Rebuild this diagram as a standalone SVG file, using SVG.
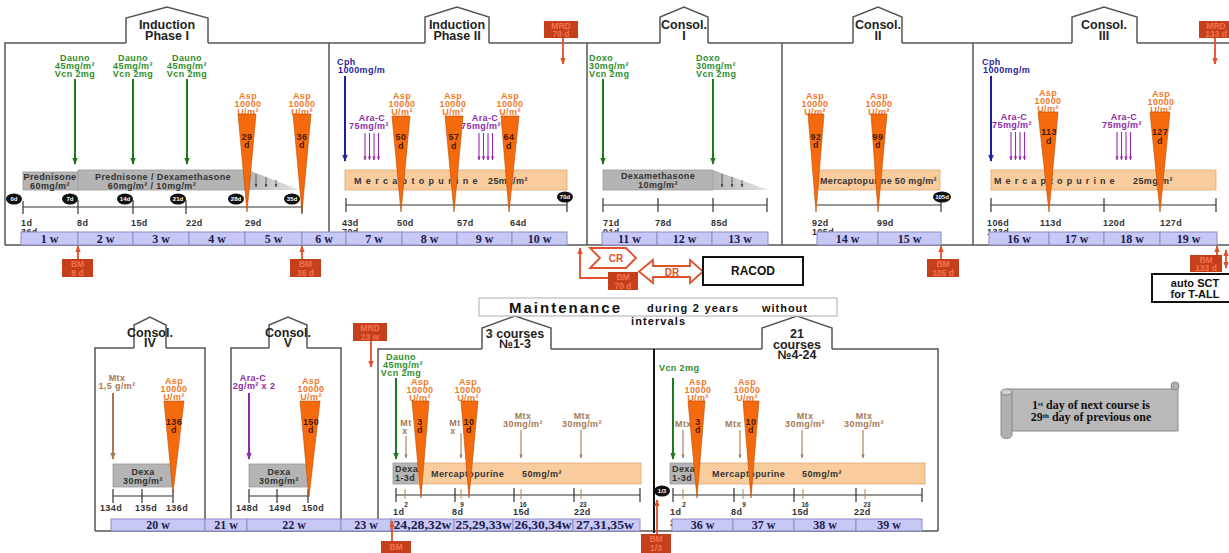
<svg xmlns="http://www.w3.org/2000/svg" width="1229" height="553" viewBox="0 0 1229 553">
<defs>
<style>
text{font-family:"Liberation Sans",Arial,sans-serif;font-weight:bold}
.s{font-size:9px;letter-spacing:0.4px}
.m{text-anchor:middle}
.ht{font-size:12.5px;fill:#222;text-anchor:middle}
.g{fill:#2e8e2e}
.o{fill:#f07a2a}
.p{fill:#8e2aa8}
.b{fill:#1f1f9e}
.br{fill:#a57a55}
.tk{fill:#4a1a00}
.dk{fill:#333}
.sm{font-size:6.5px;fill:#333;text-anchor:middle}
.wt{font-family:"Liberation Serif","Times New Roman",serif;font-size:12px;fill:#1c1c4c;text-anchor:middle}
.sc{font-family:"Liberation Serif","Times New Roman",serif;font-size:12px;fill:#111;text-anchor:middle}
.wk{fill:#c8c8f7;stroke:#8c8cc4;stroke-width:1}
.gr{fill:#b4b4b4;stroke:#9a9a9a;stroke-width:.8}
.pc{fill:#f9cc9e;stroke:#dca878;stroke-width:.8}
.tri{fill:#f66a0e;stroke:#b84a00;stroke-width:.6}
.rb{fill:#c4401a}
.rt{font-size:8.5px;fill:#f57050;text-anchor:middle}
.ovt{font-size:6px;fill:#fff;text-anchor:middle}
.fr{fill:none;stroke:#555;stroke-width:1.5}
.hs{fill:#fff;stroke:#555;stroke-width:1.5}
.tl{stroke:#333;stroke-width:1.2;fill:none}
.tb{stroke:#b08a60;stroke-width:1;fill:none}
.ga{stroke:#1e7a1e;stroke-width:2;marker-end:url(#ag)}
.ba{stroke:#1f1f9e;stroke-width:2;marker-end:url(#ab)}
.pa{stroke:#9a2ab4;stroke-width:1.1;marker-end:url(#ap)}
.pa2{stroke:#8e2aa8;stroke-width:2;marker-end:url(#ap2)}
.bra{stroke:#a57a55;stroke-width:1.1;marker-end:url(#abr)}
.bra2{stroke:#a57a55;stroke-width:2;marker-end:url(#abr2)}
.ra{stroke:#e0502a;stroke-width:1.8;marker-end:url(#ar)}
.sa{stroke:#444;stroke-width:.8;marker-end:url(#ak)}
.ol{fill:#fff;stroke:#e0502a;stroke-width:1.8}
.bx{fill:#fff;stroke:#111;stroke-width:2}
</style>
<marker id="ag" viewBox="0 0 10 10" refX="9" refY="5" markerUnits="userSpaceOnUse" markerWidth="7" markerHeight="7" orient="auto"><path d="M0,1L10,5L0,9z" fill="#1e7a1e"/></marker>
<marker id="ab" viewBox="0 0 10 10" refX="9" refY="5" markerUnits="userSpaceOnUse" markerWidth="7" markerHeight="7" orient="auto"><path d="M0,1L10,5L0,9z" fill="#1f1f9e"/></marker>
<marker id="ap" viewBox="0 0 10 10" refX="9" refY="5" markerUnits="userSpaceOnUse" markerWidth="4" markerHeight="4" orient="auto"><path d="M0,1L10,5L0,9z" fill="#9a2ab4"/></marker>
<marker id="ap2" viewBox="0 0 10 10" refX="9" refY="5" markerUnits="userSpaceOnUse" markerWidth="7" markerHeight="7" orient="auto"><path d="M0,1L10,5L0,9z" fill="#8e2aa8"/></marker>
<marker id="abr" viewBox="0 0 10 10" refX="9" refY="5" markerUnits="userSpaceOnUse" markerWidth="4" markerHeight="4" orient="auto"><path d="M0,1L10,5L0,9z" fill="#a57a55"/></marker>
<marker id="abr2" viewBox="0 0 10 10" refX="9" refY="5" markerUnits="userSpaceOnUse" markerWidth="7" markerHeight="7" orient="auto"><path d="M0,1L10,5L0,9z" fill="#a57a55"/></marker>
<marker id="ar" viewBox="0 0 10 10" refX="9" refY="5" markerUnits="userSpaceOnUse" markerWidth="7" markerHeight="7" orient="auto-start-reverse"><path d="M0,1L10,5L0,9z" fill="#e0502a"/></marker>
<marker id="ak" viewBox="0 0 10 10" refX="9" refY="5" markerUnits="userSpaceOnUse" markerWidth="3.5" markerHeight="3.5" orient="auto"><path d="M0,1L10,5L0,9z" fill="#444"/></marker>
<linearGradient id="tap" x1="0" y1="0" x2="1" y2="0"><stop offset="0" stop-color="#b4b4b4"/><stop offset="1" stop-color="#e6e6e6"/></linearGradient>
</defs>
<rect width="1229" height="553" fill="#fff"/>

<g id="frames">
<path class="fr" d="M5,245V43H126M208,43H425M489,43H660M708,43H853M902,43H1072M1137,43H1229"/>
<path class="fr" d="M5,245H1229"/>
<path class="fr" d="M329,43V232M587,43V245M782,43V245M973,43V245"/>
<path class="fr" d="M95,531V348H134M166,348H205V519M231,519V348H269M307,348H341V531M378,519V349H482M551,349H762M832,349H938V531M95,531H938"/>
<path d="M654,349V533" stroke="#111" stroke-width="2"/>
</g>

<g id="house-induction-1"><polyline class="hs" points="126,43 126,18 167,7 208,18 208,43"/><text class="ht" x="167" y="29">Induction</text><text class="ht" x="167" y="40">Phase I</text></g>
<g id="house-induction-2"><polyline class="hs" points="425,43 425,17 457,7 489,17 489,43"/><text class="ht" x="457" y="29">Induction</text><text class="ht" x="457" y="40">Phase II</text></g>
<g id="house-consol-1"><polyline class="hs" points="660,43 660,17 684,7 708,17 708,43"/><text class="ht" x="684" y="29">Consol.</text><text class="ht" x="684" y="40">I</text></g>
<g id="house-consol-2"><polyline class="hs" points="853,43 853,17 878,7 902,17 902,43"/><text class="ht" x="878" y="29">Consol.</text><text class="ht" x="878" y="40">II</text></g>
<g id="house-consol-3"><polyline class="hs" points="1072,43 1072,17 1104,7 1137,17 1137,43"/><text class="ht" x="1104" y="29">Consol.</text><text class="ht" x="1104" y="40">III</text></g>
<g id="house-consol-4"><polyline class="hs" points="134,348 134,325 150,317 166,325 166,348"/><text class="ht" x="150" y="337">Consol.</text><text class="ht" x="150" y="347">IV</text></g>
<g id="house-consol-5"><polyline class="hs" points="269,348 269,325 288,317 307,325 307,348"/><text class="ht" x="288" y="337">Consol.</text><text class="ht" x="288" y="347">V</text></g>
<g id="house-courses-1"><polyline class="hs" points="482,349 482,328 515,316 551,328 551,349"/><text class="ht" x="515" y="338">3 courses</text><text class="ht" x="515" y="348">№1-3</text></g>
<g id="house-courses-2"><polyline class="hs" points="762,349 762,328 797,316 832,328 832,349"/><text class="ht" x="797" y="338">21</text><text class="ht" x="797" y="349">courses</text><text class="ht" x="797" y="359">№4-24</text></g>

<g id="induction-1">
<rect class="gr" x="23" y="172" width="56" height="18"/>
<text class="s dk m" x="50" y="180">Prednisone</text><text class="s dk m" x="50" y="188.5">60mg/m²</text>
<rect class="gr" x="78" y="170" width="170" height="20"/>
<polygon points="248,170 300,190 248,190" fill="url(#tap)"/>
<line class="sa" x1="256" y1="174" x2="256" y2="187"/><line class="sa" x1="266" y1="177" x2="266" y2="187"/><line class="sa" x1="276" y1="180" x2="276" y2="187"/>
<text class="s dk m" x="163" y="180">Prednisone / Dexamethasone</text>
<text class="s dk m" x="152" y="188.5">60mg/m²  /  10mg/m²</text>
<path class="tl" d="M23,207H302M23,201V214M78,200V214M133,200V214M186,200V214M302,200V214"/>
<ellipse cx="14" cy="199" rx="8" ry="5.5" fill="#111"/><text class="ovt" x="14" y="201">0d</text>
<ellipse cx="70" cy="199" rx="8" ry="5.5" fill="#111"/><text class="ovt" x="70" y="201">7d</text>
<ellipse cx="125" cy="199" rx="8" ry="5.5" fill="#111"/><text class="ovt" x="125" y="201">14d</text>
<ellipse cx="178" cy="199" rx="8" ry="5.5" fill="#111"/><text class="ovt" x="178" y="201">21d</text>
<ellipse cx="236" cy="199" rx="8" ry="5.5" fill="#111"/><text class="ovt" x="236" y="201">28d</text>
<ellipse cx="292" cy="199" rx="8" ry="5.5" fill="#111"/><text class="ovt" x="292" y="201">35d</text>
<text class="s dk" x="21" y="226">1d</text><text class="s dk" x="21" y="235">36d</text>
<text class="s dk" x="77" y="226">8d</text><text class="s dk" x="131" y="226">15d</text><text class="s dk" x="186" y="226">22d</text><text class="s dk" x="245" y="226">29d</text>
<text class="s g m" x="75" y="61">Dauno</text><text class="s g m" x="75" y="69">45mg/m²</text><text class="s g m" x="75" y="77">Vcn 2mg</text>
<text class="s g m" x="133" y="61">Dauno</text><text class="s g m" x="133" y="69">45mg/m²</text><text class="s g m" x="133" y="77">Vcn 2mg</text>
<text class="s g m" x="187" y="61">Dauno</text><text class="s g m" x="187" y="69">45mg/m²</text><text class="s g m" x="187" y="77">Vcn 2mg</text>
<line class="ga" x1="75" y1="79" x2="75" y2="164"/><line class="ga" x1="133" y1="79" x2="133" y2="164"/><line class="ga" x1="187" y1="79" x2="187" y2="164"/>
<text class="s o m" x="248" y="99">Asp</text><text class="s o m" x="248" y="107">10000</text><text class="s o m" x="248" y="115">U/m²</text>
<text class="s o m" x="302" y="99">Asp</text><text class="s o m" x="302" y="107">10000</text><text class="s o m" x="302" y="115">U/m²</text>
<polygon class="tri" points="238,114 256,114 247,212"/><polygon class="tri" points="293,114 311,114 302,212"/>
<text class="s tk m" x="247" y="140">29</text><text class="s tk m" x="247" y="148">d</text>
<text class="s tk m" x="302" y="140">36</text><text class="s tk m" x="302" y="148">d</text>
</g>

<g id="induction-2">
<rect class="pc" x="345" y="170" width="222" height="20"/>
<text class="s dk" x="354" y="184" textLength="124" lengthAdjust="spacing">Mercaptopurine</text>
<text class="s dk" x="488" y="184">25mg/m²</text>
<path class="tl" d="M346,205H567M346,198V212M567,198V212"/>
<ellipse cx="565" cy="197" rx="8" ry="5.5" fill="#111"/><text class="ovt" x="565" y="199">70d</text>
<text class="s dk" x="342" y="226">43d</text><text class="s dk" x="342" y="235">70d</text>
<text class="s dk" x="397" y="226">50d</text><text class="s dk" x="457" y="226">57d</text><text class="s dk" x="510" y="226">64d</text>
<text class="s b" x="337" y="65">Cph</text><text class="s b" x="338" y="73">1000mg/m</text>
<line class="ba" x1="345" y1="76" x2="345" y2="161"/>
<text class="s p m" x="372" y="121">Ara-C</text><text class="s p m" x="369" y="129">75mg/m²</text>
<line class="pa" x1="365" y1="133" x2="365" y2="160"/><line class="pa" x1="369.5" y1="133" x2="369.5" y2="160"/><line class="pa" x1="374" y1="133" x2="374" y2="160"/><line class="pa" x1="378.5" y1="133" x2="378.5" y2="160"/>
<text class="s p m" x="485" y="121">Ara-C</text><text class="s p m" x="481" y="129">75mg/m²</text>
<line class="pa" x1="479" y1="133" x2="479" y2="160"/><line class="pa" x1="483.5" y1="133" x2="483.5" y2="160"/><line class="pa" x1="488" y1="133" x2="488" y2="160"/><line class="pa" x1="492.5" y1="133" x2="492.5" y2="160"/>
<text class="s o m" x="402" y="99">Asp</text><text class="s o m" x="402" y="107">10000</text><text class="s o m" x="402" y="115">U/m²</text>
<text class="s o m" x="453" y="99">Asp</text><text class="s o m" x="453" y="107">10000</text><text class="s o m" x="453" y="115">U/m²</text>
<text class="s o m" x="510" y="99">Asp</text><text class="s o m" x="510" y="107">10000</text><text class="s o m" x="510" y="115">U/m²</text>
<polygon class="tri" points="392,116 410,116 401,212"/><polygon class="tri" points="445,116 463,116 454,212"/><polygon class="tri" points="501,116 519,116 509,212"/>
<text class="s tk m" x="401" y="140">50</text><text class="s tk m" x="401" y="149">d</text>
<text class="s tk m" x="454" y="140">57</text><text class="s tk m" x="454" y="149">d</text>
<text class="s tk m" x="509" y="140">64</text><text class="s tk m" x="509" y="149">d</text>
</g>

<g id="consol-1">
<rect class="gr" x="603" y="170" width="110" height="20"/>
<polygon points="713,170 768,190 713,190" fill="url(#tap)"/>
<line class="sa" x1="722" y1="174" x2="722" y2="187"/><line class="sa" x1="732" y1="177" x2="732" y2="187"/><line class="sa" x1="742" y1="180" x2="742" y2="187"/>
<text class="s dk m" x="658" y="179">Dexamethasone</text><text class="s dk m" x="658" y="188">10mg/m²</text>
<path class="tl" d="M603,205H767M603,198V212M658,198V212M713,198V212M767,198V212"/>
<text class="s dk" x="603" y="226">71d</text><text class="s dk" x="603" y="235">91d</text>
<text class="s dk" x="655" y="226">78d</text><text class="s dk" x="711" y="226">85d</text>
<text class="s g" x="589" y="61">Doxo</text><text class="s g" x="589" y="69">30mg/m²</text><text class="s g" x="589" y="77">Vcn 2mg</text>
<text class="s g" x="696" y="61">Doxo</text><text class="s g" x="696" y="69">30mg/m²</text><text class="s g" x="696" y="77">Vcn 2mg</text>
<line class="ga" x1="603" y1="79" x2="603" y2="164"/><line class="ga" x1="713" y1="79" x2="713" y2="164"/>
</g>

<g id="consol-2">
<rect class="pc" x="818" y="170" width="122" height="20"/>
<text class="s dk" x="820" y="184" textLength="117" lengthAdjust="spacing">Mercaptopurine 50 mg/m²</text>
<path class="tl" d="M817,205H941M941,198V212"/>
<ellipse cx="942" cy="197" rx="9" ry="5.5" fill="#111"/><text class="ovt" x="942" y="199">105d</text>
<text class="s dk" x="812" y="226">92d</text><text class="s dk" x="812" y="235">105d</text><text class="s dk" x="877" y="226">99d</text>
<text class="s o m" x="815" y="99">Asp</text><text class="s o m" x="815" y="107">10000</text><text class="s o m" x="815" y="115">U/m²</text>
<text class="s o m" x="879" y="99">Asp</text><text class="s o m" x="879" y="107">10000</text><text class="s o m" x="879" y="115">U/m²</text>
<polygon class="tri" points="808,114 824,114 816,212"/><polygon class="tri" points="871,114 887,114 878,212"/>
<text class="s tk m" x="816" y="140">92</text><text class="s tk m" x="816" y="148">d</text>
<text class="s tk m" x="878" y="140">99</text><text class="s tk m" x="878" y="148">d</text>
</g>

<g id="consol-3">
<rect class="pc" x="991" y="170" width="225" height="20"/>
<text class="s dk" x="994" y="184" textLength="121" lengthAdjust="spacing">Mercaptopurine</text>
<text class="s dk" x="1133" y="184">25mg/m²</text>
<path class="tl" d="M991,205H1216M991,198V212M1104,198V212M1216,198V212"/>
<text class="s dk" x="987" y="226">106d</text><text class="s dk" x="987" y="235">133d</text>
<text class="s dk" x="1040" y="226">113d</text><text class="s dk" x="1103" y="226">120d</text><text class="s dk" x="1160" y="226">127d</text>
<text class="s b" x="982" y="65">Cph</text><text class="s b" x="983" y="73">1000mg/m</text>
<line class="ba" x1="991" y1="76" x2="991" y2="161"/>
<text class="s p m" x="1014" y="120">Ara-C</text><text class="s p m" x="1012" y="128">75mg/m²</text>
<line class="pa" x1="1011" y1="132" x2="1011" y2="160"/><line class="pa" x1="1015.5" y1="132" x2="1015.5" y2="160"/><line class="pa" x1="1020" y1="132" x2="1020" y2="160"/><line class="pa" x1="1024.5" y1="132" x2="1024.5" y2="160"/>
<text class="s p m" x="1124" y="120">Ara-C</text><text class="s p m" x="1122" y="128">75mg/m²</text>
<line class="pa" x1="1117" y1="132" x2="1117" y2="160"/><line class="pa" x1="1121.5" y1="132" x2="1121.5" y2="160"/><line class="pa" x1="1126" y1="132" x2="1126" y2="160"/><line class="pa" x1="1130.5" y1="132" x2="1130.5" y2="160"/>
<text class="s o m" x="1048" y="96">Asp</text><text class="s o m" x="1048" y="104">10000</text><text class="s o m" x="1048" y="112">U/m²</text>
<text class="s o m" x="1161" y="97">Asp</text><text class="s o m" x="1161" y="105">10000</text><text class="s o m" x="1161" y="113">U/m²</text>
<polygon class="tri" points="1038,112 1058,112 1049,212"/><polygon class="tri" points="1150,112 1170,112 1160,212"/>
<text class="s tk m" x="1049" y="135">113</text><text class="s tk m" x="1049" y="144">d</text>
<text class="s tk m" x="1160" y="135">127</text><text class="s tk m" x="1160" y="144">d</text>
</g>

<g id="weeks-top">
<rect class="wk" x="21" y="232" width="57" height="13"/><text class="wt" x="49.5" y="242.5">1 w</text>
<rect class="wk" x="78" y="232" width="55" height="13"/><text class="wt" x="105.5" y="242.5">2 w</text>
<rect class="wk" x="133" y="232" width="56" height="13"/><text class="wt" x="161" y="242.5">3 w</text>
<rect class="wk" x="189" y="232" width="56" height="13"/><text class="wt" x="217" y="242.5">4 w</text>
<rect class="wk" x="245" y="232" width="57" height="13"/><text class="wt" x="273.5" y="242.5">5 w</text>
<rect class="wk" x="302" y="232" width="44" height="13"/><text class="wt" x="324" y="242.5">6 w</text>
<rect class="wk" x="346" y="232" width="56" height="13"/><text class="wt" x="374" y="242.5">7 w</text>
<rect class="wk" x="402" y="232" width="55" height="13"/><text class="wt" x="429.5" y="242.5">8 w</text>
<rect class="wk" x="457" y="232" width="55" height="13"/><text class="wt" x="484.5" y="242.5">9 w</text>
<rect class="wk" x="512" y="232" width="55" height="13"/><text class="wt" x="539.5" y="242.5">10 w</text>
<rect class="wk" x="602" y="232" width="55" height="13"/><text class="wt" x="629.5" y="242.5">11 w</text>
<rect class="wk" x="657" y="232" width="55" height="13"/><text class="wt" x="684.5" y="242.5">12 w</text>
<rect class="wk" x="712" y="232" width="56" height="13"/><text class="wt" x="740" y="242.5">13 w</text>
<rect class="wk" x="817" y="232" width="61" height="13"/><text class="wt" x="847.5" y="242.5">14 w</text>
<rect class="wk" x="878" y="232" width="63" height="13"/><text class="wt" x="909.5" y="242.5">15 w</text>
<rect class="wk" x="989" y="232" width="60" height="13"/><text class="wt" x="1019" y="242.5">16 w</text>
<rect class="wk" x="1049" y="232" width="55" height="13"/><text class="wt" x="1076.5" y="242.5">17 w</text>
<rect class="wk" x="1104" y="232" width="56" height="13"/><text class="wt" x="1132" y="242.5">18 w</text>
<rect class="wk" x="1160" y="232" width="57" height="13"/><text class="wt" x="1188.5" y="242.5">19 w</text>
</g>

<g id="mrd-70"><rect class="rb" x="544" y="21" width="34" height="17"/><text class="rt" x="561" y="28.5">MRD</text><text class="rt" x="561" y="36.5">70 d</text></g>
<g id="mrd-133"><rect class="rb" x="1199" y="21" width="34" height="17"/><text class="rt" x="1216" y="28.5">MRD</text><text class="rt" x="1216" y="36.5">133 d</text></g>
<g id="bm-8"><rect class="rb" x="62" y="259" width="31" height="18"/><text class="rt" x="77.5" y="267">BM</text><text class="rt" x="77.5" y="275.5">8 d</text></g>
<g id="bm-36"><rect class="rb" x="290" y="259" width="31" height="18"/><text class="rt" x="305.5" y="267">BM</text><text class="rt" x="305.5" y="275.5">36 d</text></g>
<g id="bm-105"><rect class="rb" x="927" y="259" width="32" height="18"/><text class="rt" x="943" y="267">BM</text><text class="rt" x="943" y="275.5">105 d</text></g>
<g id="bm-133"><rect class="rb" x="1190" y="255" width="32" height="17"/><text class="rt" x="1206" y="262.5">BM</text><text class="rt" x="1206" y="270.5">133 d</text></g>
<g id="auto-sct"><rect class="bx" x="1152" y="274" width="82" height="28"/><text x="1195" y="287" font-size="11" fill="#111" text-anchor="middle">auto SCT</text><text x="1195" y="298" font-size="11" fill="#111" text-anchor="middle">for T-ALL</text></g>
<g id="cr"><polygon class="ol" points="590,248 626,248 636,258 626,268 590,268 600,258"/><text x="616" y="262" font-size="10" fill="#e0502a" text-anchor="middle">CR</text></g>
<g id="bm-70"><rect class="rb" x="608" y="272" width="30" height="18"/><text class="rt" x="623" y="280">BM</text><text class="rt" x="623" y="288.5">70 d</text></g>
<g id="dr"><polygon class="ol" points="639,271.5 653,260 653,266 690,266 690,260 703,271.5 690,283 690,277 653,277 653,283"/><text x="672" y="275.5" font-size="10" fill="#e0502a" text-anchor="middle">DR</text></g>
<g id="racod"><rect class="bx" x="703" y="257" width="100" height="28"/><text x="753" y="275" font-size="12" fill="#111" text-anchor="middle">RACOD</text></g>

<g id="maintenance-title"><rect x="479" y="298" width="358" height="18" fill="#fff" stroke="#bbb" stroke-width="1.2"/>
<text x="509" y="313" font-size="15" fill="#111" textLength="111" lengthAdjust="spacing">Maintenance</text>
<text x="647" y="312" font-size="11" fill="#111" textLength="91" lengthAdjust="spacing">during 2 years</text>
<text x="762" y="312" font-size="11" fill="#111" textLength="45" lengthAdjust="spacing">without</text>
<text x="631" y="325" font-size="11" fill="#111" textLength="54" lengthAdjust="spacing">intervals</text></g>

<g id="mrd-23"><rect class="rb" x="353" y="323" width="34" height="18"/><text class="rt" x="370" y="331">MRD</text><text class="rt" x="370" y="339.5">23 w</text></g>

<g id="consol-4">
<rect class="gr" x="113" y="464" width="59" height="23"/>
<text class="s dk m" x="143" y="474.5">Dexa</text><text class="s dk m" x="143" y="484">30mg/m²</text>
<path class="tl" d="M113,496H173M113,489V503M142,489V503M173,489V503"/>
<text class="s dk m" x="111" y="511">134d</text><text class="s dk m" x="146" y="511">135d</text><text class="s dk m" x="177" y="511">136d</text>
<text class="s br m" x="117" y="381">Mtx</text><text class="s br m" x="117" y="389">1,5 g/m²</text>
<line class="bra2" x1="113" y1="393" x2="113" y2="459"/>
<text class="s o m" x="174" y="384">Asp</text><text class="s o m" x="174" y="392">10000</text><text class="s o m" x="174" y="400">U/m²</text>
<polygon class="tri" points="164,401 184,401 173,493"/>
<text class="s tk m" x="174" y="425">136</text><text class="s tk m" x="174" y="433">d</text>
</g>

<g id="consol-5">
<rect class="gr" x="249" y="464" width="59" height="23"/>
<text class="s dk m" x="279" y="474.5">Dexa</text><text class="s dk m" x="279" y="484">30mg/m²</text>
<path class="tl" d="M249,496H308M249,489V503M277,489V503M308,489V503"/>
<text class="s dk m" x="247" y="511">148d</text><text class="s dk m" x="280" y="511">149d</text><text class="s dk m" x="313" y="511">150d</text>
<text class="s p m" x="253" y="381">Ara-C</text><text class="s p m" x="254" y="389">2g/m² x 2</text>
<line class="pa2" x1="249" y1="393" x2="249" y2="459"/>
<text class="s o m" x="311" y="384">Asp</text><text class="s o m" x="311" y="392">10000</text><text class="s o m" x="311" y="400">U/m²</text>
<polygon class="tri" points="300,401 320,401 309,497"/>
<text class="s tk m" x="311" y="425">150</text><text class="s tk m" x="311" y="433">d</text>
</g>

<g id="courses-1-3">
<rect class="gr" x="393" y="463" width="25" height="21"/>
<rect class="pc" x="418" y="463" width="223" height="21"/>
<text class="s dk" x="395" y="472">Dexa</text><text class="s dk" x="395" y="481">1-3d</text>
<text class="s dk" x="431" y="477">Mercaptopurine</text><text class="s dk" x="522" y="477">50mg/m²</text>
<path class="tl" d="M396,495H640M396,488V502M455,488V502M514,488V502M574,488V502M640,488V502"/>
<path class="tb" d="M405,489V499M461,489V499M521,489V499M581,489V499"/>
<text class="sm" x="406" y="507">2</text><text class="sm" x="462" y="507">9</text><text class="sm" x="523" y="507">16</text><text class="sm" x="583" y="507">23</text>
<text class="s dk" x="393" y="515">1d</text><text class="s dk" x="393" y="526">29d</text>
<text class="s dk" x="452" y="515">8d</text><text class="s dk" x="513" y="515">15d</text><text class="s dk" x="574" y="515">22d</text>
<text class="s g m" x="401" y="360">Dauno</text><text class="s g m" x="403" y="368">45mg/m²</text><text class="s g m" x="401" y="376">Vcn 2mg</text>
<line class="ga" x1="396" y1="378" x2="396" y2="459"/>
<text class="s br m" x="406" y="426">Mt</text><text class="s br m" x="405" y="434">x</text>
<line class="bra" x1="406" y1="436" x2="406" y2="458"/>
<text class="s br m" x="455" y="426">Mt</text><text class="s br m" x="453" y="434">x</text>
<line class="bra" x1="461" y1="433" x2="461" y2="458"/>
<text class="s br m" x="523" y="419">Mtx</text><text class="s br m" x="523" y="427">30mg/m²</text>
<line class="bra" x1="521" y1="430" x2="521" y2="458"/>
<text class="s br m" x="582" y="419">Mtx</text><text class="s br m" x="582" y="427">30mg/m²</text>
<line class="bra" x1="581" y1="430" x2="581" y2="458"/>
<text class="s o m" x="420" y="385">Asp</text><text class="s o m" x="420" y="393">10000</text><text class="s o m" x="420" y="401">U/m²</text>
<text class="s o m" x="468" y="385">Asp</text><text class="s o m" x="468" y="393">10000</text><text class="s o m" x="468" y="401">U/m²</text>
<polygon class="tri" points="412,401 429,401 421,498"/><polygon class="tri" points="461,401 478,401 469,498"/>
<text class="s tk m" x="420" y="425">3</text><text class="s tk m" x="420" y="433">d</text>
<text class="s tk m" x="469" y="425">10</text><text class="s tk m" x="469" y="433">d</text>
</g>

<g id="courses-4-24">
<rect class="gr" x="670" y="463" width="25" height="21"/>
<rect class="pc" x="695" y="463" width="230" height="21"/>
<text class="s dk" x="672" y="472">Dexa</text><text class="s dk" x="672" y="481">1-3d</text>
<text class="s dk" x="712" y="477">Mercaptopurine</text><text class="s dk" x="802" y="477">50mg/m²</text>
<path class="tl" d="M673,495H922M673,488V502M734,488V502M794,488V502M856,488V502M922,488V502"/>
<path class="tb" d="M683,489V499M743,489V499M803,489V499M865,489V499"/>
<text class="sm" x="684" y="507">2</text><text class="sm" x="744" y="507">9</text><text class="sm" x="805" y="507">16</text><text class="sm" x="867" y="507">23</text>
<text class="s dk" x="670" y="515">1d</text><text class="s dk" x="670" y="526">29d</text>
<text class="s dk" x="731" y="515">8d</text><text class="s dk" x="792" y="515">15d</text><text class="s dk" x="854" y="515">22d</text>
<ellipse cx="662" cy="491" rx="8" ry="5.5" fill="#111"/><text class="ovt" x="662" y="493">1/3</text>
<text class="s g" x="659" y="371">Vcn 2mg</text>
<line class="ga" x1="673" y1="378" x2="673" y2="459"/>
<text class="s br" x="675" y="427">Mtx</text>
<line class="bra" x1="683" y1="430" x2="683" y2="458"/>
<text class="s br" x="725" y="427">Mtx</text>
<line class="bra" x1="740" y1="430" x2="740" y2="458"/>
<text class="s br m" x="805" y="419">Mtx</text><text class="s br m" x="805" y="427">30mg/m²</text>
<line class="bra" x1="802" y1="430" x2="802" y2="458"/>
<text class="s br m" x="864" y="419">Mtx</text><text class="s br m" x="864" y="427">30mg/m²</text>
<line class="bra" x1="863" y1="430" x2="863" y2="458"/>
<text class="s o m" x="698" y="385">Asp</text><text class="s o m" x="698" y="393">10000</text><text class="s o m" x="698" y="401">U/m²</text>
<text class="s o m" x="747" y="385">Asp</text><text class="s o m" x="747" y="393">10000</text><text class="s o m" x="747" y="401">U/m²</text>
<polygon class="tri" points="688,401 705,401 697,498"/><polygon class="tri" points="743,401 759,401 751,498"/>
<text class="s tk m" x="698" y="425">3</text><text class="s tk m" x="698" y="433">d</text>
<text class="s tk m" x="751" y="425">10</text><text class="s tk m" x="751" y="433">d</text>
</g>

<g id="weeks-bottom">
<rect class="wk" x="111" y="519" width="94" height="12"/><text class="wt" x="158" y="529">20 w</text>
<rect class="wk" x="205" y="519" width="42" height="12"/><text class="wt" x="226" y="529">21 w</text>
<rect class="wk" x="247" y="519" width="94" height="12"/><text class="wt" x="294" y="529">22 w</text>
<rect class="wk" x="341" y="519" width="50" height="12"/><text class="wt" x="366" y="529">23 w</text>
<rect class="wk" x="391" y="519" width="63" height="12"/><text class="wt" x="422.5" y="529" textLength="58" lengthAdjust="spacingAndGlyphs">24,28,32w</text>
<rect class="wk" x="454" y="519" width="59" height="12"/><text class="wt" x="483.5" y="529" textLength="56" lengthAdjust="spacingAndGlyphs">25,29,33w</text>
<rect class="wk" x="513" y="519" width="60" height="12"/><text class="wt" x="543" y="529" textLength="57" lengthAdjust="spacingAndGlyphs">26,30,34w</text>
<rect class="wk" x="573" y="519" width="67" height="12"/><text class="wt" x="605" y="529" textLength="58" lengthAdjust="spacingAndGlyphs">27,31,35w</text>
<rect class="wk" x="672" y="519" width="61" height="12"/><text class="wt" x="702.5" y="529">36 w</text>
<rect class="wk" x="733" y="519" width="61" height="12"/><text class="wt" x="763.5" y="529">37 w</text>
<rect class="wk" x="794" y="519" width="62" height="12"/><text class="wt" x="825" y="529">38 w</text>
<rect class="wk" x="856" y="519" width="66" height="12"/><text class="wt" x="889" y="529">39 w</text>
</g>

<g id="bm-bottom"><rect class="rb" x="381" y="541" width="30" height="13"/><text class="rt" x="396" y="550">BM</text></g>
<g id="bm-1-3"><rect class="rb" x="641" y="534" width="30" height="19"/><text class="rt" x="656" y="542">BM</text><text class="rt" x="656" y="551">1/3</text></g>

<g id="scroll-note">
<rect x="1007" y="389" width="171" height="42" fill="#b9b9b9" stroke="#8a8a8a" stroke-width="1"/>
<path d="M1001,392V435A5.5,3.5 0 0 0 1012,435V392Z" fill="#b0b0b0" stroke="#8a8a8a" stroke-width="1"/>
<ellipse cx="1006.5" cy="392" rx="5.5" ry="3" fill="#d0d0d0" stroke="#8a8a8a" stroke-width="1"/>
<circle cx="1175" cy="386" r="4" fill="#b0b0b0" stroke="#8a8a8a" stroke-width="1"/>
<text class="sc" x="1091" y="409">1<tspan font-size="7" dy="-3">st</tspan><tspan dy="3"> day of next course is</tspan></text>
<text class="sc" x="1091" y="421">29<tspan font-size="7" dy="-3">th</tspan><tspan dy="3"> day of previous one</tspan></text>
</g>

<g id="connectors">
<line class="ra" x1="563" y1="38" x2="563" y2="64"/>
<line class="ra" x1="1215" y1="38" x2="1215" y2="64"/>
<line class="ra" x1="78" y1="259" x2="78" y2="246"/>
<line class="ra" x1="302" y1="259" x2="302" y2="246"/>
<line class="ra" x1="941" y1="259" x2="941" y2="246"/>
<line class="ra" x1="1217" y1="255" x2="1217" y2="246"/>
<line class="ra" x1="1226" y1="250" x2="1226" y2="268" marker-start="url(#ar)"/>
<path d="M608,278H580V248" fill="none" stroke="#e0502a" stroke-width="1.8" marker-end="url(#ar)"/>
<line class="ra" x1="371" y1="341" x2="371" y2="367"/>
<line class="ra" x1="392" y1="541" x2="392" y2="521"/>
<line class="ra" x1="657" y1="534" x2="657" y2="500"/>
</g>
</svg>
